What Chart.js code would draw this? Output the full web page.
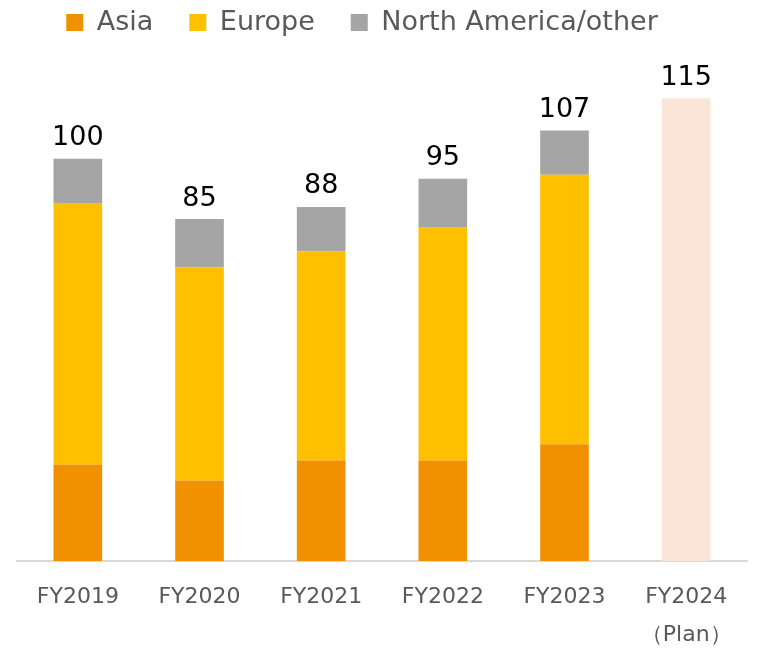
<!DOCTYPE html>
<html>
<head>
<meta charset="utf-8">
<script src="https://cdn.jsdelivr.net/npm/chart.js@4.4.1/dist/chart.umd.min.js"></script>
<style>
  html, body { margin: 0; padding: 0; background: #fff; }
  #wrap { width: 757px; height: 648px; position: relative; }
</style>
</head>
<body>
<div id="wrap"><canvas id="chart"></canvas></div>
<script>
// values
const categories = ['FY2019', 'FY2020', 'FY2021', 'FY2022', 'FY2023', ['FY2024', '（Plan）']];
const asia = [24, 20, 25, 25, 29, null];
const europe = [65, 53, 52, 58, 67, null];
const northAmerica = [11, 12, 11, 12, 11, null];
const plan = [null, null, null, null, null, 115];
const totals = [100, 85, 88, 95, 107, 115];

const FONT = "'DejaVu Sans', Verdana, sans-serif";

// draws the total above each stacked bar
const totalLabels = {
  id: 'totalLabels',
  afterDatasetsDraw(chart) {
    const { ctx, scales: { x, y } } = chart;
    ctx.save();
    ctx.font = '27px ' + FONT;
    ctx.fillStyle = '#000';
    ctx.textAlign = 'center';
    ctx.textBaseline = 'bottom';
    totals.forEach((t, i) => {
      ctx.fillText(String(t), x.getPixelForValue(i), y.getPixelForValue(t) - 7);
    });
    ctx.restore();
  }
};

// legend in the original sits a bit left of centre
const legendShift = {
  id: 'legendShift',
  afterLayout(chart) {
    chart.legend.left -= 20;
    chart.legend.right -= 20;
  }
};

new Chart(document.getElementById('chart'), {
  type: 'bar',
  data: {
    labels: categories,
    datasets: [
      { label: 'Asia', data: asia, backgroundColor: '#F29100' },
      { label: 'Europe', data: europe, backgroundColor: '#FFC000' },
      { label: 'North America/other', data: northAmerica, backgroundColor: '#A5A5A5' },
      { label: 'Plan', data: plan, backgroundColor: '#FBE5D6' }
    ]
  },
  options: {
    responsive: true,
    maintainAspectRatio: false,
    animation: false,
    layout: { padding: { left: 17, right: 10, top: -27, bottom: -24 } },
    datasets: { bar: { barPercentage: 0.4, categoryPercentage: 1, borderWidth: 0 } },
    scales: {
      x: {
        stacked: true,
        grid: { display: false, drawTicks: false },
        border: { color: '#D9D9D9', width: 2 },
        ticks: { color: '#595959', font: { family: FONT, size: 22, lineHeight: 1.75 }, padding: 17 }
      },
      y: {
        stacked: true,
        display: false,
        min: 0,
        max: 128
      }
    },
    plugins: {
      legend: {
        position: 'top',
        labels: {
          color: '#595959',
          font: { family: FONT, size: 27 },
          boxWidth: 17,
          boxHeight: 17,
          padding: 36,
          filter: item => item.text !== 'Plan'
        }
      },
      tooltip: { enabled: false }
    }
  },
  plugins: [totalLabels, legendShift]
});
</script>
</body>
</html>
